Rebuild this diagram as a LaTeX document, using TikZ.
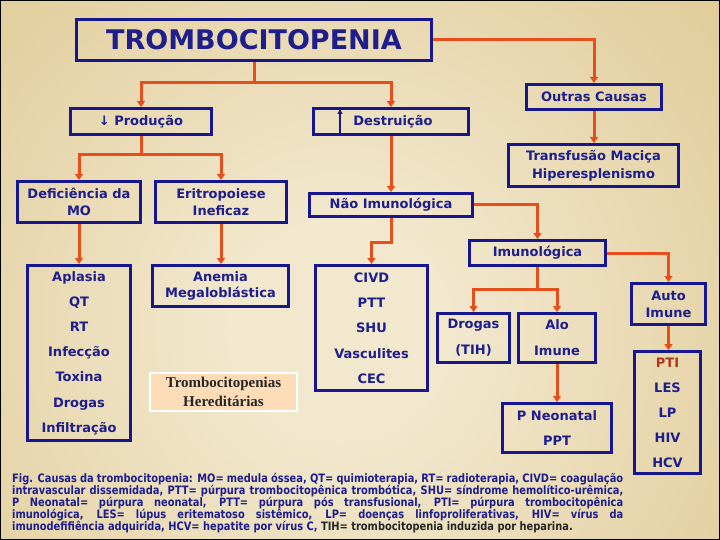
\documentclass[tikz,border=0pt]{standalone}
\usepackage{fontspec}
\setmainfont{DejaVu Sans}
\newfontfamily\serfam{Liberation Serif}
\newfontfamily\capfam[FakeStretch=0.85]{DejaVu Sans}
\usetikzlibrary{arrows.meta}
\definecolor{navy}{HTML}{16168E}
\definecolor{navtext}{HTML}{1E1E8C}
\definecolor{orng}{HTML}{E84E1B}
\definecolor{bgin}{HTML}{F2E8CE}
\definecolor{bgout}{HTML}{D0B064}
\definecolor{ptired}{HTML}{B5341E}
\definecolor{peach}{HTML}{FCDDB8}
\pgfdeclareradialshading{bgsh}{\pgfpoint{0bp}{0bp}}{color(0bp)=(bgin); color(6bp)=(bgin); color(50bp)=(bgout)}
\tikzset{
  box/.style={draw=navy, line width=3pt, inner sep=0pt, align=center, text=navtext},
  lsp/.style={font=\bfseries\fontsize{13}{#1}\selectfont},
  conn/.style={draw=orng, line width=3pt},
  arr/.style={conn, -{Triangle[width=8pt,length=6pt]}},
}
\begin{document}
\begin{tikzpicture}[x=1pt, y=-1pt]
\useasboundingbox (0,0) rectangle (720,540);
\begin{scope}
  \clip (0,0) rectangle (720,540);
  \fill[shading=bgsh] (-110,-120) rectangle (790,780);
\end{scope}
\draw[black, line width=2.5pt] (0,0) rectangle (720,540);

% boxes
\node[box, minimum width=355pt, minimum height=41pt, font=\bfseries\fontsize{27}{30}\selectfont] (trombo) at (254,40) {TROMBOCITOPENIA};
\node[box, lsp=16, minimum width=141pt, minimum height=26pt] (prod) at (141,121.5) {↓ Produção};
\node[box, lsp=16, minimum width=155pt, minimum height=26pt] (dest) at (391,121.5) {\hspace*{4pt}Destruição};
\node[box, lsp=16, minimum width=135pt, minimum height=25pt] (outras) at (594,97) {Outras Causas};
\node[box, lsp=18, minimum width=170pt, minimum height=42pt] (transf) at (593.5,165.5) {Transfusão Maciça\\Hiperesplenismo};
\node[box, lsp=17, minimum width=123pt, minimum height=41pt] (defic) at (79,202) {Deficiência da\\MO};
\node[box, lsp=17, minimum width=131pt, minimum height=41pt] (eritro) at (221,202) {Eritropoiese\\Ineficaz};
\node[box, lsp=16, minimum width=163pt, minimum height=23pt] (naoimuno) at (391,205) {Não Imunológica};
\node[box, lsp=16, minimum width=136pt, minimum height=25pt] (imuno) at (537.5,253) {Imunológica};
\node[box, lsp=25.2, minimum width=103pt, minimum height=175pt] (aplasia) at (79,353) {Aplasia\\QT\\RT\\Infecção\\Toxina\\Drogas\\Infiltração};
\node[box, lsp=16.5, minimum width=136pt, minimum height=41pt] (anemia) at (220.5,286) {Anemia\\Megaloblástica};
\node[draw=white, fill=peach, line width=2pt, inner sep=0pt, align=center, text=black!85, minimum width=147pt, minimum height=38pt, font=\serfam\bfseries\fontsize{15}{19}\selectfont] (heredit) at (223.5,392) {Trombocitopenias\\Hereditárias};
\node[box, lsp=25.3, minimum width=112pt, minimum height=125pt] (civd) at (371.5,328) {CIVD\\PTT\\SHU\\Vasculites\\CEC};
\node[box, lsp=26, minimum width=72pt, minimum height=49pt] (drogas) at (473.5,338) {Drogas\\(TIH)};
\node[box, lsp=26, minimum width=77pt, minimum height=49pt] (alo) at (557,338) {Alo\\Imune};
\node[box, lsp=25, minimum width=109pt, minimum height=49pt] (pneo) at (557,428) {P Neonatal\\PPT};
\node[box, lsp=17, minimum width=74pt, minimum height=41pt] (auto) at (668.5,304) {Auto\\Imune};
\node[box, lsp=25, minimum width=66pt, minimum height=122pt] (pti) at (667.5,412.5) {\textcolor{ptired}{PTI}\\LES\\LP\\HIV\\HCV};

% up arrow inside Destruicao
\draw[navy, line width=1.5pt, -{Triangle[width=5pt,length=5pt]}] ([xshift=-51pt]dest.south) -- ([xshift=-51pt,yshift=-2pt]dest.north);

% connectors
\draw[conn] (trombo.south) -- ++(0,21) coordinate (j1);
\draw[arr] (j1) -| (prod.north);
\draw[arr] (j1) -| (dest.north);
\draw[arr] (trombo.east) -| (outras.north);
\draw[arr] (outras.south) -- (outras.south |- transf.north);
\draw[conn] (prod.south) -- ++(0,19) coordinate (j2);
\draw[arr] (j2) -| (defic.north);
\draw[arr] (j2) -| (eritro.north);
\draw[arr] (dest.south) -- (naoimuno.north);
\draw[arr] (naoimuno.east) -| (imuno.north);
\draw[arr] (naoimuno.south) -- ++(0,24) -| (civd.north);
\draw[arr] (imuno.east) -| (auto.north);
\draw[arr] (defic.south) -- (aplasia.north);
\draw[arr] (eritro.south) -- (eritro.south |- anemia.north);
\draw[conn] (imuno.south) -- ++(0,22) coordinate (j3);
\draw[arr] (j3) -| (drogas.north);
\draw[arr] (j3) -| (alo.north);
\draw[arr] (alo.south) -- (pneo.north);
\draw[arr] (auto.south) -- (auto.south |- pti.north);

% caption
\node[anchor=north west, inner sep=0pt, text width=611pt, align=justify, text=navtext, font=\capfam\bfseries\fontsize{11.6}{12}\selectfont] (caption) at (12,473) {\tolerance=10000\hyphenpenalty=10000
Fig. Causas da trombocitopenia: MO= medula óssea, QT= quimioterapia, RT= radioterapia, CIVD= coagulação\linebreak
intravascular dissemidada, PTT= púrpura trombocitopênica trombótica, SHU= síndrome hemolítico-urêmica,\linebreak
P Neonatal= púrpura neonatal, PTT= púrpura pós transfusional, PTI= púrpura trombocitopênica\linebreak
imunológica, LES= lúpus eritematoso sistêmico, LP= doenças linfoproliferativas, HIV= vírus da\linebreak
imunodefifiência adquirida, HCV= hepatite por vírus C, \textcolor{black!85}{TIH= trombocitopenia induzida por heparina.}};
\end{tikzpicture}
\end{document}
